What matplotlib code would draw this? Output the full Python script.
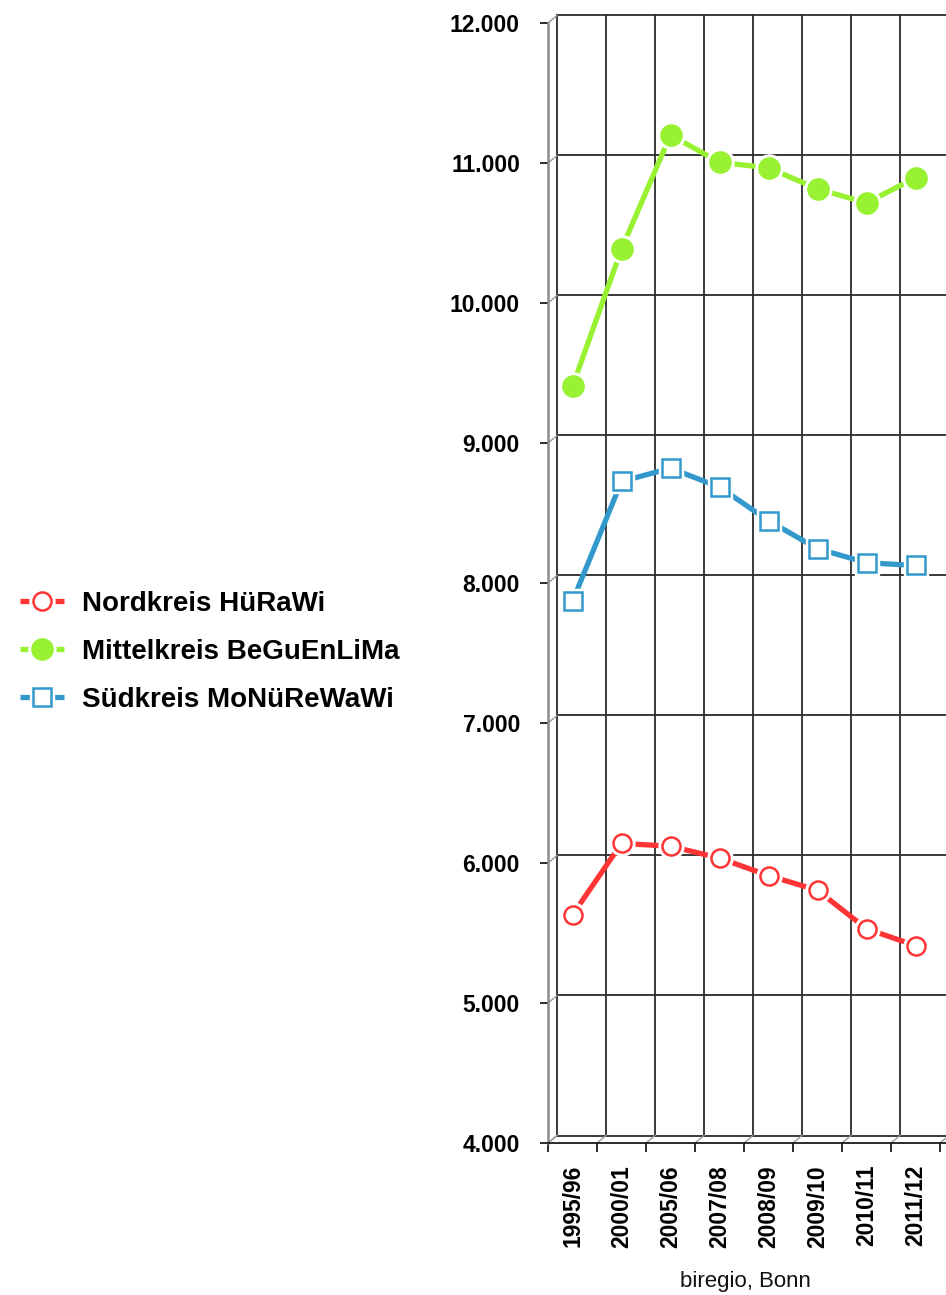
"""
Schülerzahlen nach Kreisteilen - Linienchart mit pseudo-3D Rückwand
"""

import matplotlib
matplotlib.use('Agg')
import matplotlib.pyplot as plt
from matplotlib import font_manager
from matplotlib.font_manager import FontProperties
from matplotlib.legend_handler import HandlerTuple
from matplotlib.ticker import FuncFormatter
import numpy as np

# Data
seasons = ["1995/96", "2000/01", "2005/06", "2007/08", "2008/09", "2009/10", "2010/11", "2011/12"]
nordkreis = [5630, 6140, 6120, 6035, 5910, 5805, 5530, 5410]
mittelkreis = [9405, 10385, 11200, 11005, 10965, 10815, 10715, 10895]
suedkreis = [7870, 8725, 8820, 8685, 8445, 8245, 8145, 8125]
y_ticks = list(range(4000, 12001, 1000))


def have_font(name):
    try:
        font_manager.findfont(FontProperties(family=name), fallback_to_default=False)
        return True
    except ValueError:
        return False


# Condensed font for axis labels if we have one
if have_font('Liberation Sans Narrow'):
    tick_font, ytick_size, xtick_size = 'Liberation Sans Narrow', 20, 19.5
else:
    tick_font, ytick_size, xtick_size = 'Liberation Sans', 16.5, 16.5

DPI = 100
W, H = 946, 1295
fig = plt.figure(figsize=(W / DPI, H / DPI), dpi=DPI)
fig.patch.set_facecolor('white')

# front plane of the chart; runs past the right edge like the original
ax = fig.add_axes([548 / W, 1 - 1143 / H, 9 * 49 / W, 1120 / H])
ax.set_xlim(-0.5, 8.5)
ax.set_ylim(4000, 12000)
x = np.arange(len(seasons))

# back wall offset (depth effect) in data units
DX = 9 / 49
DY = 7.5 * 8000 / 1120

grid_kw = dict(color='#2b2b2b', lw=1.3, clip_on=False, zorder=1)
for k in range(10):
    xb = -0.5 + k + DX
    ax.plot([xb, xb], [4000 + DY, 12000 + DY], **grid_kw)
for v in y_ticks:
    ax.plot([-0.5 + DX, 9.5], [v + DY, v + DY], **grid_kw)

# little depth edges at the ticks
depth_kw = dict(color='#9a9a9a', lw=1.0, clip_on=False, zorder=1)
for v in y_ticks:
    ax.plot([-0.5, -0.5 + DX], [v, v + DY], **depth_kw)
for k in range(10):
    ax.plot([-0.5 + k, -0.5 + k + DX], [4000, 4000 + DY], **depth_kw)

# Series
series = [
    (nordkreis, 'Nordkreis HüRaWi', '#ff3535', 'o', 'white', 13),
    (mittelkreis, 'Mittelkreis BeGuEnLiMa', '#98f232', 'o', '#98f232', 14.5),
    (suedkreis, 'Südkreis MoNüReWaWi', '#3399cc', 's', 'white', 12.5),
]

handles, labels = [], []
for vals, label, color, marker, face, ms in series:
    ln, = ax.plot(x, vals, color=color, lw=3.8, solid_capstyle='butt', zorder=3)
    gap, = ax.plot(x, vals, ls='none', marker=marker, ms=ms + 5,
                   mfc='white', mec='white', zorder=4)
    mk, = ax.plot(x, vals, ls='none', marker=marker, ms=ms,
                  mfc=face, mec=color, mew=1.8, zorder=5)
    handles.append((ln, gap, mk))
    labels.append(label)

# Axes styling
for side in ['top', 'right']:
    ax.spines[side].set_visible(False)
ax.spines['left'].set_color('#8c8c8c')
ax.spines['left'].set_linewidth(1.8)
ax.spines['bottom'].set_color('#1a1a1a')
ax.spines['bottom'].set_linewidth(1.3)

ax.set_yticks(y_ticks)
ax.yaxis.set_major_formatter(FuncFormatter(lambda v, p: f"{v:,.0f}".replace(',', '.')))
ax.tick_params(axis='y', length=5.8, width=1.3, color='#1a1a1a', pad=14.4)
for lbl in ax.get_yticklabels():
    lbl.set_fontproperties(FontProperties(family=tick_font, weight='bold', size=ytick_size))

ax.set_xticks(np.arange(-0.5, 9, 1))
ax.set_xticklabels([])
ax.set_xticks(x, minor=True)
ax.set_xticklabels(seasons, minor=True, rotation=90)
ax.tick_params(axis='x', which='major', length=6.5, width=1.3, color='#1a1a1a')
ax.tick_params(axis='x', which='minor', length=0, pad=15.8)
for lbl in ax.get_xticklabels(minor=True):
    lbl.set_fontproperties(FontProperties(family=tick_font, weight='bold', size=xtick_size))

# Source note
fig.text(745 / W, 1 - 1281 / H, 'biregio, Bonn', ha='center', va='center',
         fontsize=16, family='Liberation Sans', color='#111111')

# Legend
fig.legend(handles, labels, handler_map={tuple: HandlerTuple(ndivide=1, pad=0)},
           loc='center left', bbox_to_anchor=(20 / W, 1 - 652 / H),
           frameon=False, borderpad=0, borderaxespad=0,
           prop=FontProperties(family='Liberation Sans', weight='bold', size=20),
           handlelength=1.6, handletextpad=0.62, labelspacing=0.8)

fig.savefig('out.png', dpi=DPI, facecolor='white')
plt.close(fig)
